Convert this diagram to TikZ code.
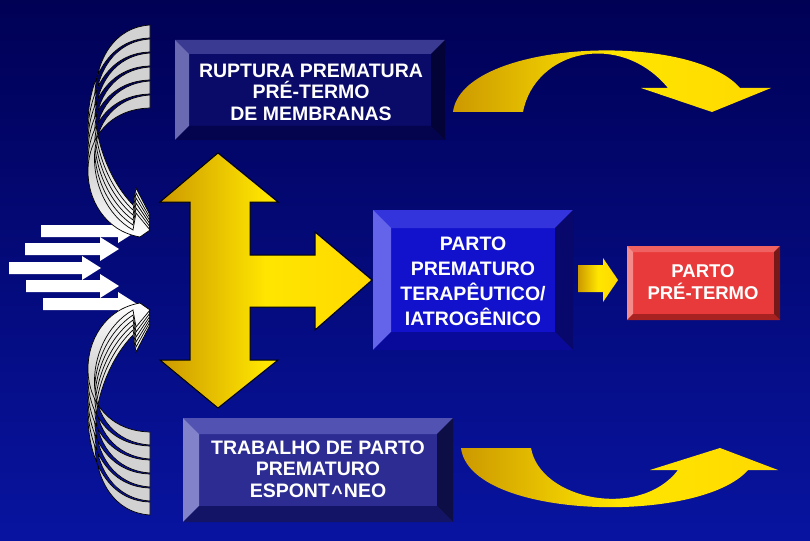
\documentclass[tikz,border=0pt]{standalone}
\usepackage{fontspec}
\setmainfont{Liberation Sans}
\begin{document}
\begin{tikzpicture}[x=1pt,y=-1pt,
  lbl/.style={text=white,font=\bfseries\fontsize{19.5}{21.5}\selectfont,align=center},
  gold/.style={left color=yellow!50!orange!80!black,right color=yellow!70!orange,middle color=yellow!80!orange},
  wa/.style={fill=white,draw=none},
  sw/.style={fill=white,draw=black,line width=0.8pt}]
\shade[top color={rgb,255:red,0;green,0;blue,85},bottom color={rgb,255:red,8;green,20;blue,160}] (0,0) rectangle (810,540);
\useasboundingbox (0,0) rectangle (810,540);
\newcommand\bbox[9]{%
 \fill[#6] (#1,#2) rectangle (#3,#4);
 \fill[#7] (#1,#2)--(#3,#2)--(#3-#5,#2+#5)--(#1+#5,#2+#5)--cycle;
 \fill[#8] (#1,#2)--(#1+#5,#2+#5)--(#1+#5,#4-#5)--(#1,#4)--cycle;
 \fill[#9] (#1,#4)--(#3,#4)--(#3-#5,#4-#5)--(#1+#5,#4-#5)--cycle;
 \fill[#9!70!black] (#3,#2)--(#3,#4)--(#3-#5,#4-#5)--(#3-#5,#2+#5)--cycle;}
\definecolor{fa}{HTML}{0A0A68}\definecolor{ta}{HTML}{3A3A92}\definecolor{la}{HTML}{6A6AB2}\definecolor{ba}{HTML}{04044E}
\definecolor{fb}{HTML}{1212CC}\definecolor{tb}{HTML}{3434DC}\definecolor{lb}{HTML}{6464EA}\definecolor{bb}{HTML}{0A0A9A}
\definecolor{fc}{HTML}{2C2C92}\definecolor{tc}{HTML}{5252B2}\definecolor{lc}{HTML}{8282CA}\definecolor{bc}{HTML}{141466}
\definecolor{fd}{HTML}{E83A3A}\definecolor{td}{HTML}{F06262}\definecolor{ld}{HTML}{F48A8A}\definecolor{bd}{HTML}{A82222}
\bbox{175}{40}{445}{140}{14}{fa}{ta}{la}{ba}
\bbox{373}{210}{573}{350}{18}{fb}{tb}{lb}{bb}
\bbox{183}{418}{453}{522}{16}{fc}{tc}{lc}{bc}
\bbox{627}{246}{780}{320}{6}{fd}{td}{ld}{bd}
\node[lbl] (rup) at (311,92) {RUPTURA PREMATURA\\PRÉ-TERMO\\DE MEMBRANAS};
\node[lbl,font=\bfseries\fontsize{19.5}{25}\selectfont] (ter) at (473,281) {PARTO\\PREMATURO\\TERAPÊUTICO/\\IATROGÊNICO};
\node[lbl] (tra) at (318,470) {TRABALHO DE PARTO\\PREMATURO\\ESPONT\makebox[14pt]{\raisebox{-2pt}{\^{}}}NEO};
\node[lbl,font=\bfseries\fontsize{18.5}{22}\selectfont] (ppt) at (703,282) {PARTO\\PRÉ-TERMO};
% H arrow
\shade[gold,draw=black,line width=1pt] (218,153)--(278,202)--(250,202)--(250,255)--(315,255)--(315,232)--(372,280)--(315,330)--(315,307)--(250,307)--(250,360)--(278,360)--(218,408)--(160,360)--(190,360)--(190,202)--(160,202)--cycle;
% small arrow
\shade[gold] (578,265)--(603,265)--(603,258)--(618,280)--(603,302)--(603,292)--(578,292)--cycle;
% top curved arrow
\shade[gold] (453,112) .. controls (462,40) and (690,30) .. (740,88) -- (771,88) -- (712,112) -- (641,88) -- (668,88) .. controls (620,30) and (535,50) .. (523,112) -- cycle;
% bottom curved arrow
\shade[gold] (461,448) .. controls (470,520) and (700,525) .. (748,470) -- (778,470) -- (720,448) -- (650,470) -- (678,470) .. controls (640,520) and (540,500) .. (531,448) -- cycle;
% white horizontal arrows
\foreach \y/\a/\b in {231/41/118,249/25/100,268/9/82,286/26/100,304/43/118}{
  \fill[white] (\a,\y-6)--(\b,\y-6)--(\b,\y-12)--(\b+19,\y)--(\b,\y+12)--(\b,\y+6)--(\a,\y+6)--cycle;}
% swirls top
\foreach \k in {0,...,5}{
  \shade[top color=gray!35,bottom color=white,middle color=gray!35,draw=black,line width=0.7pt]
   (150,25+14*\k) .. controls (78,30+14*\k) and (80,150+10*\k) .. (133,205+5*\k) -- (136,188+5*\k) -- (150,215+3*\k) -- (140,232+\k) .. controls (70,195+6*\k) and (68,40+14*\k) .. (150,38+14*\k) -- cycle;}
\foreach \k in {0,...,5}{
  \shade[bottom color=gray!35,top color=white,middle color=gray!35,draw=black,line width=0.7pt]
   (150,515-14*\k) .. controls (78,510-14*\k) and (80,390-10*\k) .. (133,335-5*\k) -- (136,352-5*\k) -- (150,325-3*\k) -- (140,308-\k) .. controls (70,345-6*\k) and (68,500-14*\k) .. (150,502-14*\k) -- cycle;}
\end{tikzpicture}
\end{document}
